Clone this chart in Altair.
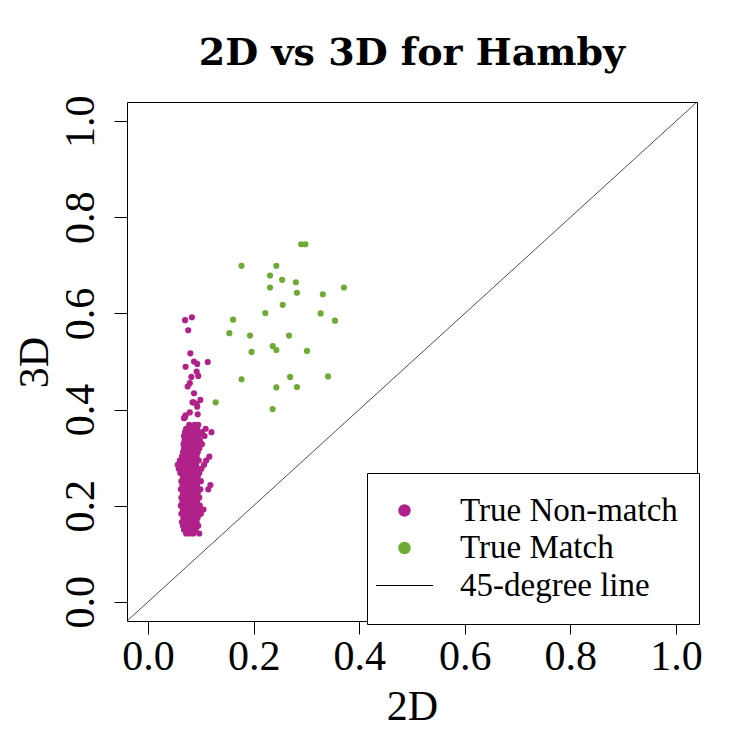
import altair as alt
import pandas as pd

# ---- data ----
match_points = [
    (0.290, 0.744), (0.298, 0.744), (0.177, 0.699), (0.243, 0.699), (0.231, 0.679),
    (0.254, 0.670), (0.280, 0.665), (0.231, 0.654), (0.371, 0.654), (0.282, 0.643),
    (0.331, 0.640), (0.255, 0.618), (0.222, 0.601), (0.327, 0.600), (0.161, 0.587),
    (0.354, 0.585), (0.154, 0.559), (0.193, 0.554), (0.267, 0.554), (0.236, 0.532),
    (0.243, 0.524), (0.196, 0.520), (0.301, 0.522), (0.177, 0.463), (0.269, 0.468),
    (0.341, 0.469), (0.243, 0.446), (0.282, 0.447), (0.128, 0.415), (0.236, 0.401),
]

nonmatch_points = [
    (0.072, 0.142), (0.079, 0.142), (0.086, 0.142), (0.097, 0.142),
    (0.068, 0.150), (0.075, 0.150), (0.083, 0.150), (0.090, 0.150),
    (0.066, 0.158), (0.073, 0.158), (0.080, 0.158), (0.088, 0.158), (0.095, 0.158),
    (0.064, 0.166), (0.071, 0.166), (0.078, 0.166), (0.085, 0.166), (0.092, 0.166),
    (0.067, 0.175), (0.074, 0.175), (0.081, 0.175), (0.089, 0.175), (0.094, 0.175),
    (0.063, 0.183), (0.070, 0.183), (0.077, 0.183), (0.084, 0.183), (0.091, 0.183), (0.100, 0.183),
    (0.066, 0.192), (0.073, 0.192), (0.080, 0.192), (0.087, 0.192), (0.095, 0.192), (0.105, 0.192),
    (0.062, 0.200), (0.069, 0.200), (0.076, 0.200), (0.083, 0.200), (0.090, 0.200), (0.098, 0.200),
    (0.065, 0.209), (0.072, 0.209), (0.079, 0.209), (0.086, 0.209), (0.093, 0.209),
    (0.063, 0.217), (0.070, 0.217), (0.077, 0.217), (0.084, 0.217), (0.091, 0.217), (0.097, 0.217),
    (0.066, 0.226), (0.073, 0.226), (0.080, 0.226), (0.087, 0.226), (0.094, 0.226),
    (0.062, 0.234), (0.069, 0.234), (0.076, 0.234), (0.083, 0.234), (0.090, 0.234), (0.099, 0.234), (0.114, 0.234),
    (0.065, 0.243), (0.072, 0.243), (0.079, 0.243), (0.086, 0.243), (0.093, 0.243), (0.118, 0.243),
    (0.063, 0.251), (0.070, 0.251), (0.077, 0.251), (0.084, 0.251), (0.091, 0.251), (0.100, 0.251),
    (0.066, 0.260), (0.073, 0.260), (0.080, 0.260), (0.087, 0.260), (0.094, 0.260),
    (0.061, 0.268), (0.068, 0.268), (0.075, 0.268), (0.082, 0.268), (0.089, 0.268), (0.097, 0.268),
    (0.058, 0.277), (0.065, 0.277), (0.072, 0.277), (0.079, 0.277), (0.086, 0.277), (0.093, 0.277), (0.101, 0.277),
    (0.056, 0.285), (0.063, 0.285), (0.070, 0.285), (0.077, 0.285), (0.084, 0.285), (0.091, 0.285), (0.106, 0.285),
    (0.060, 0.294), (0.067, 0.294), (0.074, 0.294), (0.081, 0.294), (0.088, 0.294), (0.096, 0.294), (0.110, 0.294),
    (0.064, 0.302), (0.071, 0.302), (0.078, 0.302), (0.085, 0.302), (0.092, 0.302), (0.116, 0.302),
    (0.066, 0.311), (0.073, 0.311), (0.080, 0.311), (0.087, 0.311), (0.094, 0.311),
    (0.068, 0.319), (0.075, 0.319), (0.082, 0.319), (0.089, 0.319), (0.097, 0.319),
    (0.067, 0.328), (0.074, 0.328), (0.081, 0.328), (0.088, 0.328), (0.095, 0.328), (0.102, 0.328),
    (0.069, 0.336), (0.076, 0.336), (0.083, 0.336), (0.090, 0.336), (0.098, 0.336),
    (0.068, 0.345), (0.075, 0.345), (0.082, 0.345), (0.089, 0.345), (0.096, 0.345), (0.107, 0.345),
    (0.070, 0.353), (0.077, 0.353), (0.084, 0.353), (0.091, 0.353), (0.102, 0.353), (0.120, 0.353),
    (0.072, 0.360), (0.079, 0.360), (0.086, 0.360), (0.093, 0.360), (0.109, 0.360),
    (0.078, 0.368), (0.088, 0.368), (0.095, 0.368),
    (0.068, 0.382), (0.070, 0.384), (0.071, 0.388), (0.079, 0.394), (0.094, 0.390),
    (0.086, 0.415), (0.093, 0.406), (0.099, 0.420), (0.084, 0.415), (0.092, 0.412),
    (0.087, 0.434), (0.075, 0.448), (0.079, 0.455), (0.082, 0.468), (0.095, 0.470),
    (0.092, 0.479), (0.071, 0.489), (0.087, 0.500), (0.093, 0.495), (0.113, 0.499),
    (0.080, 0.517), (0.076, 0.565), (0.070, 0.586), (0.083, 0.592),
]

categories = ["True Non-match", "True Match", "45-degree line"]
colors = ["#B0228A", "#6FAB34", "#000000"]
diag_x = [-0.05, 1.05]
diag_y = [-0.05, 1.05]
ticks = [0.0, 0.2, 0.4, 0.6, 0.8, 1.0]

LINE_SYMBOL = "M -4.6 -0.085 L 4.6 -0.085 L 4.6 0.085 L -4.6 0.085 Z"

rows = [{"x": x, "y": y, "type": "True Non-match"} for x, y in nonmatch_points]
rows += [{"x": x, "y": y, "type": "True Match"} for x, y in match_points]
pts = pd.DataFrame(rows)
diag = pd.DataFrame({"x": diag_x, "y": diag_y})

FONT = "Liberation Serif"

xscale = alt.Scale(domain=[-0.04, 1.04], nice=False, zero=False)
yscale = alt.Scale(domain=[-0.04, 1.04], nice=False, zero=False)

xaxis = alt.Axis(values=ticks, format=".1f", title="2D", labelFlush=False,
                 labelBaseline="alphabetic", labelPadding=35,
                 titleBaseline="alphabetic", titleX=285, titleY=98, titleAlign="center")
yaxis = alt.Axis(values=ticks, format=".1f", title="3D", labelAngle=270,
                 labelAlign="center", labelBaseline="alphabetic", labelPadding=21,
                 titleAngle=270, titleBaseline="alphabetic", titleAlign="center",
                 titleX=-80, titleY=260)

leg = alt.Legend(title=None, orient="none", legendX=240, legendY=371)

line = alt.Chart(diag).mark_line(color="black", strokeWidth=0.7, clip=True).encode(
    x=alt.X("x:Q", scale=xscale, axis=xaxis),
    y=alt.Y("y:Q", scale=yscale, axis=yaxis),
)

points = alt.Chart(pts).mark_point(filled=True, size=38, opacity=1, strokeWidth=0).encode(
    x=alt.X("x:Q", scale=xscale, axis=xaxis),
    y=alt.Y("y:Q", scale=yscale, axis=yaxis),
    color=alt.Color("type:N", scale=alt.Scale(domain=categories, range=colors), legend=leg),
    shape=alt.Shape("type:N", scale=alt.Scale(domain=categories,
                                              range=["circle", "circle", LINE_SYMBOL]),
                    legend=leg),
)

chart = alt.layer(line, points).properties(
    width=570, height=519,
    autosize=alt.AutoSizeParams(type="none"),
    padding={"left": 119, "top": 94, "right": 40, "bottom": 125},
    title=alt.TitleParams("2D vs 3D for Hamby", font="DejaVu Serif", fontSize=38,
                          fontWeight="bold", anchor="middle", baseline="alphabetic",
                          offset=30, dy=38, color="black"),
).configure_view(
    stroke="black", strokeWidth=1, fill="white"
).configure_axis(
    domain=False, grid=False, tickColor="black", tickWidth=1, tickSize=13,
    labelColor="black", labelFont=FONT, labelFontSize=42, labelOverlap=False,
    titleColor="black", titleFont=FONT, titleFontSize=42, titleFontWeight="normal",
).configure_legend(
    padding=21, symbolOffset=0, labelOffset=39, rowPadding=3.5, symbolSize=154,
    labelFont=FONT, labelFontSize=33, labelColor="black", strokeColor="black",
    fillColor="white", cornerRadius=0, symbolOpacity=1, symbolStrokeWidth=0,
    labelLimit=400,
)

chart.save("out.html", embed_options={"renderer": "svg", "actions": False})
